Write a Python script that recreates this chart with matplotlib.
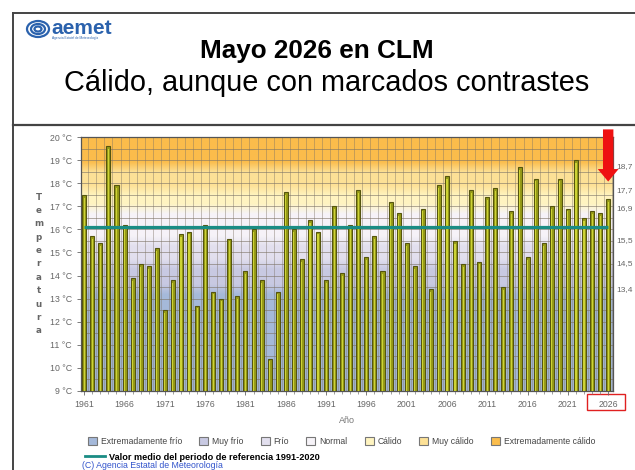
import numpy as np
import matplotlib
matplotlib.use("Agg")
import matplotlib.pyplot as plt
from matplotlib.patches import Patch, Rectangle, Ellipse
from matplotlib.lines import Line2D
from matplotlib.colors import to_rgb

plt.rcParams['font.family'] = ['Liberation Sans', 'DejaVu Sans']

# Temperatura media de mayo en Castilla-La Mancha
years = np.arange(1961, 2027)
temps = [17.5, 15.7, 15.4, 19.6, 17.9, 16.2, 13.9, 14.5, 14.4, 15.2,
         12.5, 13.8, 15.8, 15.9, 12.7, 16.2, 13.3, 13.0, 15.6, 13.1,
         14.2, 16.0, 13.8, 10.4, 13.3, 17.6, 16.0, 14.7, 16.4, 15.9,
         13.8, 17.0, 14.1, 16.2, 17.7, 14.8, 15.7, 14.2, 17.2, 16.7,
         15.4, 14.4, 16.9, 13.4, 17.9, 18.3, 15.5, 14.5, 17.7, 14.6,
         17.4, 17.8, 13.5, 16.8, 18.7, 14.8, 18.2, 15.4, 17.0, 18.2,
         16.9, 19.0, 16.5, 16.8, 16.7, 17.3]
ref_mean = 16.1

# umbrales de las categorías
thresholds = [13.4, 14.5, 15.5, 16.9, 17.7, 18.7]
categories = ['Extremadamente frío', 'Muy frío', 'Frío', 'Normal',
              'Cálido', 'Muy cálido', 'Extremadamente cálido']
cat_colors = ['#a5b9da', '#c8c9e2', '#e2dfee', '#f6f3f8',
              '#fff4c0', '#fde196', '#fbbd4c']

ymin, ymax = 9, 20
xmin, xmax = 1960.6, 2026.6

fig = plt.figure(figsize=(6.35, 4.70), dpi=100)
ax = fig.add_axes([0.1276, 0.1681, 0.8378, 0.5404])

# fondo degradado por categorías
yy = np.linspace(ymin, ymax, 600)
rgb = np.array([to_rgb(c) for c in cat_colors])
col = rgb[np.digitize(yy, thresholds)]
k = 25
kern = np.ones(k) / k
col = np.stack([np.convolve(np.pad(col[:, i], k, mode='edge'), kern, mode='same')[k:-k]
                for i in range(3)], axis=1)
ax.imshow(col[::-1][:, None, :], extent=[xmin, xmax, ymin, ymax], aspect='auto',
          zorder=0, interpolation='bilinear')

# rejilla
for yv in np.arange(ymin, ymax + 0.1, 0.5):
    ax.axhline(yv, color='#7d7366', lw=0.7, alpha=0.6, zorder=1)
for xv in np.arange(1960.5, 2026.6, 1):
    ax.axvline(xv, color='#7d7366', lw=0.6, alpha=0.5, zorder=1)

# barras
ax.bar(years, np.array(temps) - ymin, bottom=ymin, width=0.5,
       color='#979b18', edgecolor='#55550e', linewidth=0.8, zorder=3)
ax.bar(years, np.array(temps) - ymin - 0.12, bottom=ymin, width=0.14,
       color='#cdd335', linewidth=0, zorder=4)

# valor medio de referencia
ax.hlines(ref_mean, 1961, 2026, color='#1a8c84', lw=2.3, zorder=5)

ax.set_xlim(xmin, xmax)
ax.set_ylim(ymin, ymax)
ax.set_xticks(np.arange(1961, 2027, 5))
ax.set_xticks(np.arange(1961, 2027), minor=True)
ax.set_yticks(np.arange(ymin, ymax + 1, 1))
ax.set_yticklabels([f'{v} °C' for v in range(ymin, ymax + 1)])
ax.tick_params(axis='both', which='major', labelsize=6.3, colors='#666666',
               length=3, width=0.6)
ax.tick_params(axis='x', which='minor', length=2, width=0.5, color='#777777')
for s in ax.spines.values():
    s.set_color('#555555')
    s.set_linewidth(0.9)

ax.set_xlabel('Año', fontsize=6.5, color='#777777', labelpad=5)
ax.set_ylabel('\n'.join('Temperatura'), rotation=0, fontsize=6.3,
              fontweight='bold', color='#666666', family='DejaVu Sans',
              linespacing=1.62, va='center', labelpad=8)

# etiquetas de umbrales a la derecha
for t in thresholds:
    ax.text(1.006, (t - ymin) / (ymax - ymin), f'{t:.1f}'.replace('.', ','),
            transform=ax.transAxes, fontsize=6.0, color='#666666', va='center')

# flecha roja sobre 2026
ax.annotate('', xy=(years[-1], 17.95), xytext=(years[-1], 20.45),
            arrowprops=dict(arrowstyle='simple,head_width=1.5,head_length=0.9,tail_width=0.75',
                            color='#ee1111', lw=0),
            annotation_clip=False, zorder=10)
ax.add_patch(Rectangle((2023.4, -0.075), 4.7, 0.063, transform=ax.get_xaxis_transform(),
                       fill=False, edgecolor='#e02020', lw=1.0, clip_on=False))

# marco y cabecera
fig.add_artist(Line2D([13 / 635, 1], [1 - 13 / 470] * 2, color='#444444', lw=1.4))
fig.add_artist(Line2D([13 / 635, 13 / 635], [0, 1 - 13 / 470], color='#444444', lw=1.4))
fig.add_artist(Line2D([13 / 635, 1], [1 - 125 / 470] * 2, color='#444444', lw=1.6))

fig.text(317 / 635, 1 - 51 / 470, 'Mayo 2026 en CLM', ha='center', va='center',
         fontsize=18.8, fontweight='bold')
fig.text(327 / 635, 1 - 83 / 470, 'Cálido, aunque con marcados contrastes',
         ha='center', va='center', fontsize=20.8)

# logo aemet
fig.text(51 / 635, 1 - 28 / 470, 'aemet', fontsize=15, fontweight='bold',
         color='#2b62ad', va='center')
fig.text(52 / 635, 1 - 38 / 470, 'Agencia Estatal de Meteorología', fontsize=2.3,
         color='#2b62ad', va='center')
for w, h in [(22, 16), (14, 10), (7, 5)]:
    fig.add_artist(Ellipse((38 / 635, 1 - 29 / 470), w / 635, h / 470,
                           fill=False, edgecolor='#2b62ad', lw=1.6))

# leyenda
handles = [Patch(facecolor=c, edgecolor='#777777', lw=0.8) for c in cat_colors]
fig.legend(handles, categories, loc='center left', ncol=7,
           bbox_to_anchor=(80 / 635, 1 - 441 / 470), frameon=False,
           fontsize=6.2, handlelength=1.05, handleheight=1.05,
           handletextpad=0.45, columnspacing=2.0, labelcolor='#444444')
fig.legend([Line2D([], [], color='#1a8c84', lw=2)],
           ['Valor medio del periodo de referencia 1991-2020'],
           loc='center left', bbox_to_anchor=(77 / 635, 1 - 457 / 470),
           frameon=False, handlelength=2.2, handletextpad=0.4,
           prop={'size': 6.6, 'weight': 'bold'})
fig.text(82 / 635, 1 - 465 / 470, '(C) Agencia Estatal de Meteorología',
         fontsize=6.3, color='#3355cc', va='center')

fig.savefig('out.png', dpi=100)
